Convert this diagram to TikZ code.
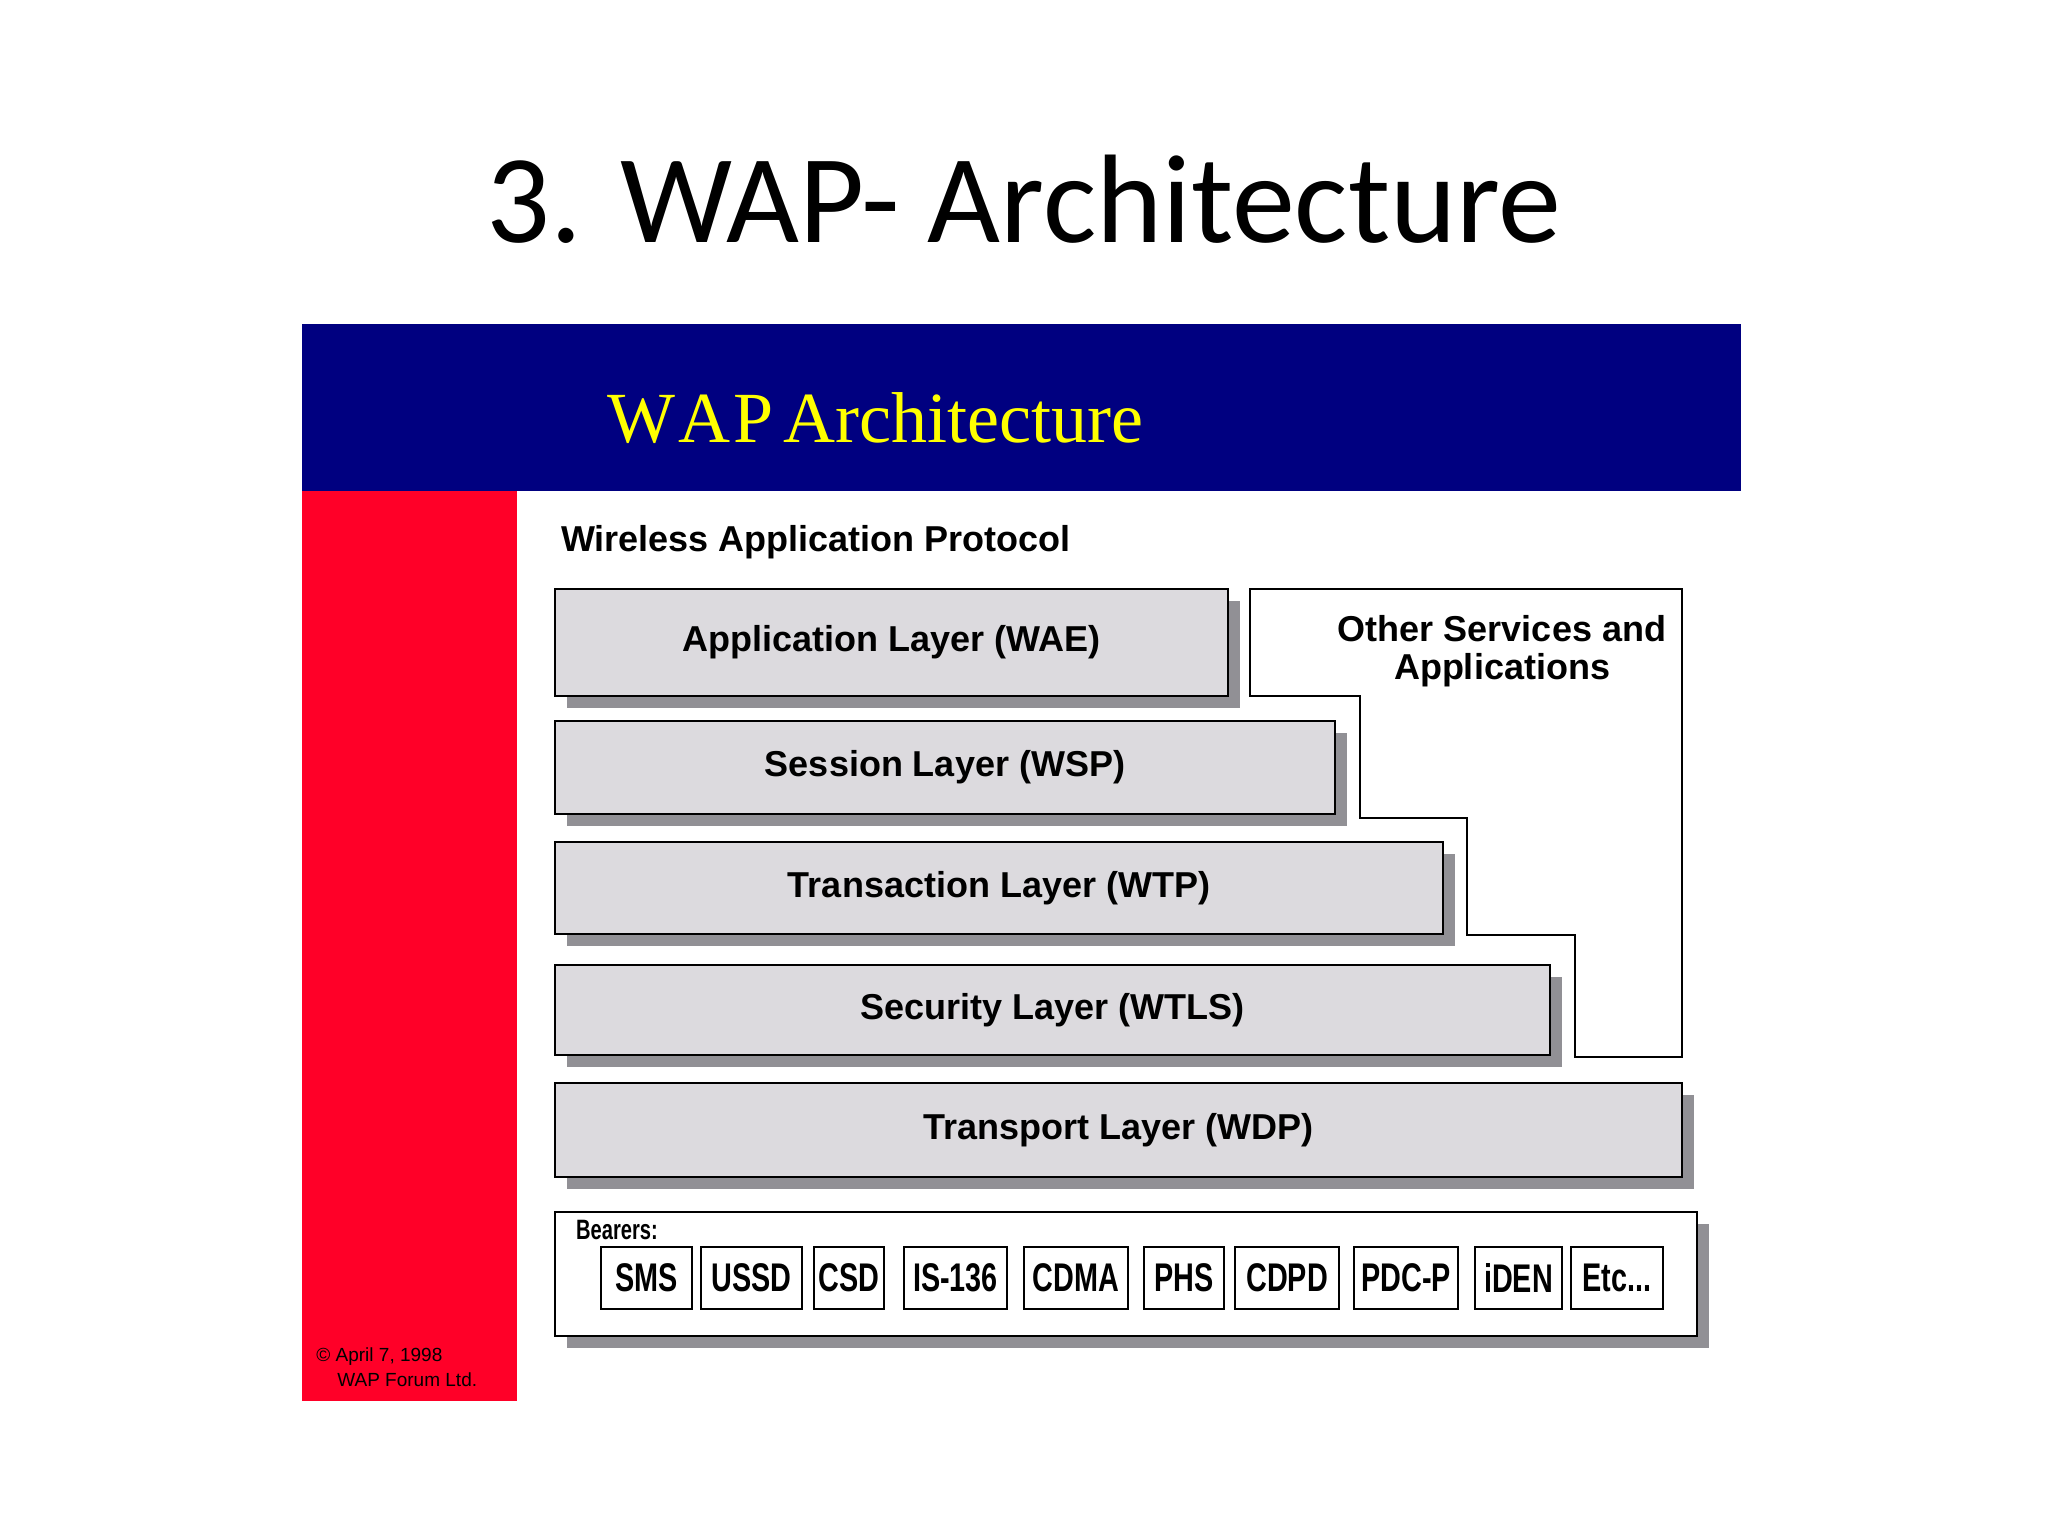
\documentclass[tikz,border=0pt]{standalone}
\usepackage{fontspec}
\setmainfont{Liberation Sans}
\newfontfamily\titlefont{Carlito}
\newfontfamily\bannerfont{Liberation Serif}
\newfontfamily\narrowfont[FakeStretch=0.72]{Liberation Sans}
\definecolor{navy}{RGB}{0,0,128}
\definecolor{wapred}{RGB}{255,0,40}
\definecolor{wapyellow}{RGB}{255,255,0}
\definecolor{layergray}{RGB}{220,218,222}
\definecolor{shadowgray}{RGB}{145,144,149}
\begin{document}
\begin{tikzpicture}[x=0.5pt,y=-0.5pt,
  layerbox/.style={draw=black,line width=1.4pt,fill=layergray,inner sep=0pt,
    font=\bfseries\fontsize{18}{21}\selectfont},
  whitebox/.style={draw=black,line width=1.4pt,fill=white,inner sep=0pt},
  bearer/.style={draw=black,line width=1pt,fill=white,inner sep=0pt,
    minimum height=31pt,font=\narrowfont\bfseries\fontsize{20}{22}\selectfont},
  shadowfill/.style={fill=shadowgray}]
\useasboundingbox[fill=white] (0,0) rectangle (2048,1536);

% title
\node[font=\titlefont\fontsize{63}{70}\selectfont,anchor=base] (title) at (1024,242) {3. WAP- Architecture};

% banner and red bar
\fill[navy] (302,324) rectangle (1741,491);
\fill[wapred] (302,491) rectangle (517,1401);
\node[font=\bannerfont\fontsize{36}{40}\selectfont,text=wapyellow,anchor=west,inner sep=0pt] (banner) at (607,418) {W\kern1.5pt A\kern1.5pt P\kern5pt Architecture};

\node[font=\bfseries\fontsize{18}{21}\selectfont,anchor=west] (wap) at (554,542) {Wireless Application Protocol};

% shadows
\fill[shadowfill] (567,601) rectangle (1240,708);
\fill[shadowfill] (567,733) rectangle (1347,826);
\fill[shadowfill] (567,854) rectangle (1455,946);
\fill[shadowfill] (567,977) rectangle (1562,1067);
\fill[shadowfill] (567,1095) rectangle (1694,1189);
\fill[shadowfill] (567,1224) rectangle (1709,1348);

% layers
\node[layerbox,minimum width=336.5pt,minimum height=53.5pt] (app) at (891.5,642.5) {Application Layer (WAE)};
\node[layerbox,minimum width=390pt,minimum height=46.5pt] (wsp) at (945,767.5) {Session Layer (WSP)};
\node[layerbox,minimum width=444pt,minimum height=46pt] (wtp) at (999,888) {Transaction Layer (WTP)};
\node[layerbox,minimum width=497.5pt,minimum height=45pt] (wtls) at (1052.5,1010) {Security Layer (WTLS)};
\node[layerbox,minimum width=563.5pt,minimum height=47pt] (wdp) at (1118.5,1130) {Transport Layer (WDP)};

% other services
\draw[line width=1.4pt,fill=white] (1250,589) -- (1682,589) -- (1682,1057) -- (1575,1057)
  -- (1575,935) -- (1467,935) -- (1467,818) -- (1360,818) -- (1360,696) -- (1250,696) -- cycle;
\node[font=\bfseries\fontsize{18}{19}\selectfont,align=center] (other) at (1502,651)
  {Other Services and\\Applications};

% bearers
\node[whitebox,minimum width=571pt,minimum height=62pt] (bearers) at (1126,1274) {};
\node[font=\narrowfont\bfseries\fontsize{14}{16}\selectfont,anchor=west] (blabel) at (569,1230) {Bearers:};
\node[bearer,minimum width=45.5pt] (sms) at (646.5,1278) {SMS};
\node[bearer,minimum width=50.5pt] (ussd) at (751.5,1278) {USSD};
\node[bearer,minimum width=35pt] (csd) at (849,1278) {CSD};
\node[bearer,minimum width=51.5pt] (is136) at (955.5,1278) {IS-136};
\node[bearer,minimum width=52pt] (cdma) at (1076,1278) {CDMA};
\node[bearer,minimum width=40pt] (phs) at (1184,1278) {PHS};
\node[bearer,minimum width=52pt] (cdpd) at (1287,1278) {CDPD};
\node[bearer,minimum width=52pt] (pdcp) at (1406,1278) {PDC-P};
\node[bearer,minimum width=43.5pt] (iden) at (1518.5,1278) {iDEN};
\node[bearer,minimum width=46pt] (etc) at (1617,1278) {Etc...};

% copyright
\node[font=\fontsize{9.5}{11}\selectfont,anchor=west,inner sep=0pt] (copy1) at (316,1357) {© April 7, 1998};
\node[font=\fontsize{9.5}{11}\selectfont,anchor=west,inner sep=0pt] (copy2) at (337,1380) {WAP Forum Ltd.};
\end{tikzpicture}
\end{document}
